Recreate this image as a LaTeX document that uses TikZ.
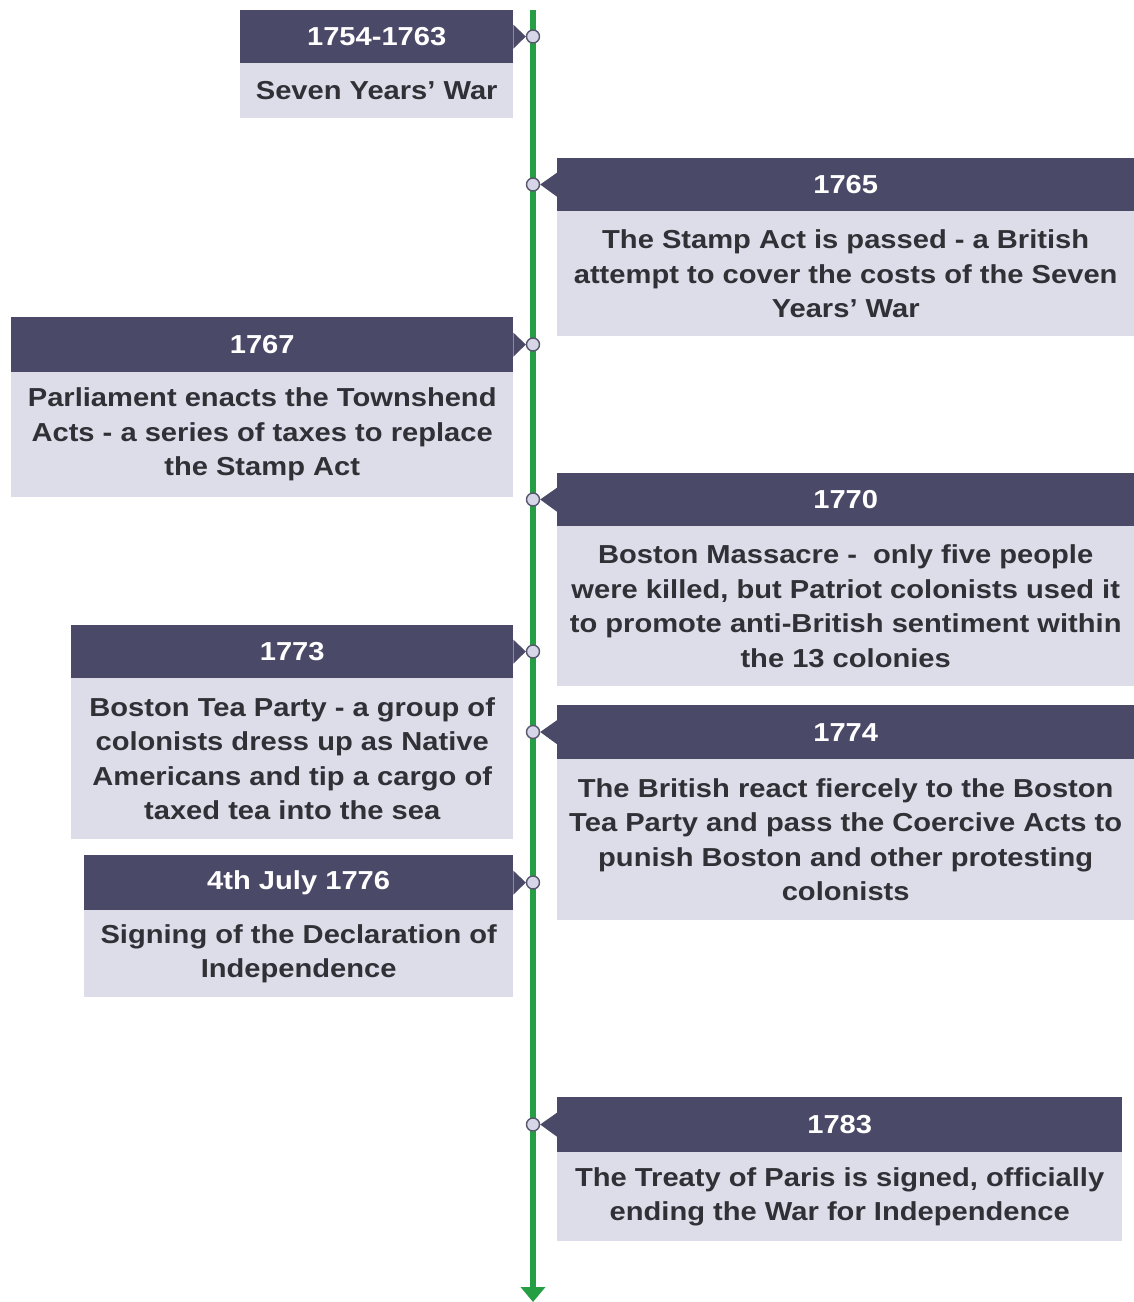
\documentclass[tikz,border=0pt]{standalone}
\usepackage{fontspec}
\setmainfont{Liberation Sans}[FakeStretch=1.12]
\usetikzlibrary{arrows.meta}
\definecolor{hdrcol}{RGB}{75,73,104}
\definecolor{bodycol}{RGB}{221,221,233}
\definecolor{txtcol}{RGB}{48,48,54}
\definecolor{spinecol}{RGB}{38,158,68}
\definecolor{dotfill}{RGB}{214,214,232}
\definecolor{dotline}{RGB}{88,88,108}
\begin{document}
\begin{tikzpicture}[x=1pt,y=-1pt,
  hdr/.style={fill=hdrcol,text=white,inner sep=0pt,anchor=north west,
    font=\fontsize{26}{34.5}\selectfont\bfseries},
  bdy/.style={fill=bodycol,text=txtcol,inner sep=0pt,anchor=north west,align=center,
    font=\fontsize{26}{34.5}\selectfont\bfseries},
  dot/.style={circle,draw=dotline,fill=dotfill,line width=1.4pt,minimum size=13pt,inner sep=0pt},
  spine/.style={draw=spinecol,line width=6pt,-{Triangle[width=24pt,length=15pt]}},
  notch/.style={fill=hdrcol}]
\useasboundingbox (0,0) rectangle (1134,1302);
% spine
\coordinate (top) at (533,10);
\coordinate (bot) at (533,1302);
\draw[spine] (top) -- (bot);
% 1
\node[hdr,minimum width=273pt,minimum height=53pt] (h1) at (240,10) {1754-1763};
\node[bdy,minimum width=273pt,minimum height=55pt] (b1) at (240,63) {Seven Years’ War};
% 2
\node[hdr,minimum width=577pt,minimum height=53pt] (h2) at (557,158) {1765};
\node[bdy,minimum width=577pt,minimum height=125pt] (b2) at (557,211) {The Stamp Act is passed - a British\\attempt to cover the costs of the Seven\\Years’ War};
% 3
\node[hdr,minimum width=502pt,minimum height=55pt] (h3) at (11,317) {1767};
\node[bdy,minimum width=502pt,minimum height=125pt] (b3) at (11,372) {Parliament enacts the Townshend\\Acts - a series of taxes to replace\\the Stamp Act};
% 4
\node[hdr,minimum width=577pt,minimum height=53pt] (h4) at (557,473) {1770};
\node[bdy,minimum width=577pt,minimum height=160pt] (b4) at (557,526) {Boston Massacre - \ only five people\\were killed, but Patriot colonists used it\\to promote anti-British sentiment within\\the 13 colonies};
% 5
\node[hdr,minimum width=442pt,minimum height=53pt] (h5) at (71,625) {1773};
\node[bdy,minimum width=442pt,minimum height=161pt] (b5) at (71,678) {Boston Tea Party - a group of\\colonists dress up as Native\\Americans and tip a cargo of\\taxed tea into the sea};
% 6
\node[hdr,minimum width=577pt,minimum height=54pt] (h6) at (557,705) {1774};
\node[bdy,minimum width=577pt,minimum height=161pt] (b6) at (557,759) {The British react fiercely to the Boston\\Tea Party and pass the Coercive Acts to\\punish Boston and other protesting\\colonists};
% 7
\node[hdr,minimum width=429pt,minimum height=55pt] (h7) at (84,855) {4th July 1776};
\node[bdy,minimum width=429pt,minimum height=87pt] (b7) at (84,910) {Signing of the Declaration of\\Independence};
% 8
\node[hdr,minimum width=565pt,minimum height=55pt] (h8) at (557,1097) {1783};
\node[bdy,minimum width=565pt,minimum height=89pt] (b8) at (557,1152) {The Treaty of Paris is signed, officially\\ending the War for Independence};
% dots
\node[dot] (c1) at (533,36.5) {};
\node[dot] (c2) at (533,184.5) {};
\node[dot] (c3) at (533,344.5) {};
\node[dot] (c4) at (533,499.5) {};
\node[dot] (c5) at (533,651.5) {};
\node[dot] (c6) at (533,732) {};
\node[dot] (c7) at (533,882.5) {};
\node[dot] (c8) at (533,1124.5) {};
% notches
\foreach \i in {1,3,5,7}{
  \fill[notch] ([yshift=-12pt]h\i.east) -- (c\i.west) -- ([yshift=12pt]h\i.east) -- cycle;}
\foreach \i in {2,4,6,8}{
  \fill[notch] ([yshift=-12pt]h\i.west) -- (c\i.east) -- ([yshift=12pt]h\i.west) -- cycle;}
\end{tikzpicture}
\end{document}
